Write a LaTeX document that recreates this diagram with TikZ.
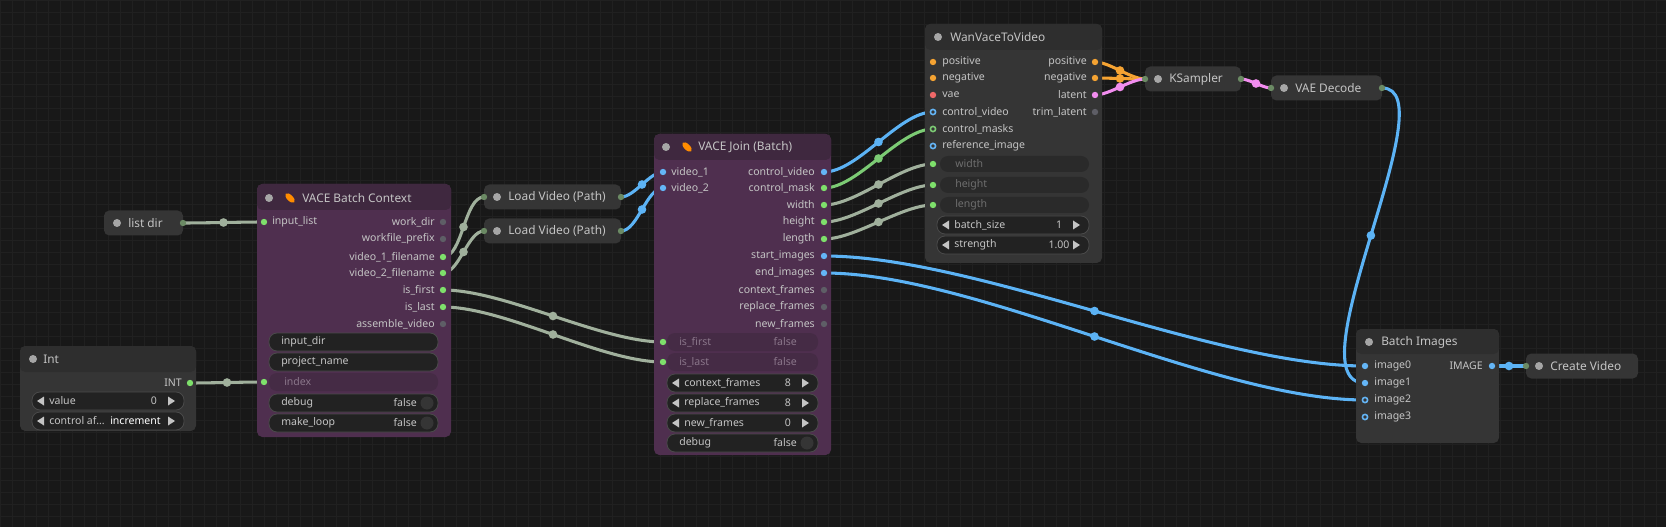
\documentclass[tikz,border=0pt]{standalone}
\usepackage{fontspec}
\setmainfont{Noto Sans}
\begin{document}
\definecolor{bg}{HTML}{181818}
\definecolor{gridc}{HTML}{202020}
\definecolor{nodebg}{HTML}{353535}
\definecolor{titlebg}{HTML}{2E2E2E}
\definecolor{purp}{HTML}{4F2F4F}
\definecolor{purptitle}{HTML}{3F283F}
\definecolor{purpdis}{HTML}{452B45}
\definecolor{txt}{HTML}{C4C4C4}
\definecolor{dimtxt}{HTML}{6E6E6E}
\definecolor{pdimtxt}{HTML}{8A768A}
\definecolor{wbg}{HTML}{222222}
\definecolor{wbd}{HTML}{4A4A4A}
\definecolor{togc}{HTML}{353535}
\definecolor{lgray}{HTML}{A0B09C}
\definecolor{lblue}{HTML}{5CB3F5}
\definecolor{lgreen}{HTML}{7CCB74}
\definecolor{lorange}{HTML}{F5A332}
\definecolor{lpink}{HTML}{F28DEF}
\definecolor{pgreen}{HTML}{7EE06B}
\definecolor{pblue}{HTML}{64B5F6}
\definecolor{pgray}{HTML}{5E5E66}
\definecolor{pred}{HTML}{F06868}
\definecolor{pcol}{HTML}{6B8A64}
\begin{tikzpicture}[x=0.75pt,y=-0.75pt,
  lbl/.style={text=txt,font=\fontsize{7.9}{9}\selectfont,inner sep=0pt},
  ttl/.style={text=txt,font=\fontsize{8.9}{10}\selectfont,inner sep=0pt,anchor=west},
  link/.style={line width=2.3pt,line cap=round},
  rr/.style={circle,fill,inner sep=0pt,minimum size=6.5pt},
  box/.style={fill=nodebg,rounded corners=4pt},
  wbox/.style={fill=wbg,draw=wbd,line width=0.6pt,rounded corners=6pt},
  lk/.style={looseness=0.7}]
\useasboundingbox (0,0) rectangle (1666,527);
\fill[bg] (0,0) rectangle (1666,527);
\foreach \i in {0,12,...,1666} \draw[gridc,line width=0.4pt] (\i,0)--(\i,527);
\foreach \i in {0,12,...,527} \draw[gridc,line width=0.4pt] (0,\i)--(1666,\i);
% helpers
\newcommand\gport[3]{\fill[#3] (#1,#2) circle (3.2);}
\newcommand\hport[3]{\draw[#3,line width=1.2pt,fill=nodebg] (#1,#2) circle (2.6);}
\newcommand\ltri[2]{\fill[txt] (#1,#2-4.5)--(#1,#2+4.5)--(#1-7,#2)--cycle;}
\newcommand\rtri[2]{\fill[txt] (#1,#2-4.5)--(#1,#2+4.5)--(#1+7,#2)--cycle;}
\newcommand\arrw[5]{\draw[wbox] (#1,#3-9) rectangle (#2,#3+9);
  \ltri{#1+12}{#3}\node[lbl,anchor=west] at (#1+17,#3) {#4};
  \node[lbl] at (#2-30,#3) {#5};\rtri{#2-16}{#3}}
\newcommand\tog[4]{\draw[wbox] (#1,#3-9) rectangle (#2,#3+9);
  \node[lbl,anchor=west] at (#1+12,#3) {#4};
  \node[lbl,anchor=east] at (#2-21,#3) {false};\fill[togc] (#2-11,#3) circle (6.5);}
\newcommand\txtw[4]{\draw[wbox] (#1,#3-9) rectangle (#2,#3+9);
  \node[lbl,anchor=west] at (#1+12,#3) {#4};}
\newcommand\collapsed[5]{% name x1 x2 y text
  \fill[box] (#2,#4-12.5) rectangle (#3,#4+12.5);
  \fill[gray!70] (#2+13,#4) circle (4);
  \node[ttl] (#1) at (#2+24,#4) {#5};}
\newcommand\icon[2]{\fill[orange!90!yellow,rotate around={45:(#1,#2)}] (#1,#2) ellipse (3 and 6);}

% ---------------- links (drawn under nodes) ----------------
\coordinate (ld-o) at (183,223); \coordinate (bc-in) at (264,222);
\coordinate (int-o) at (190,383); \coordinate (bc-idx) at (264,382);
\coordinate (bc-v1) at (443,257); \coordinate (bc-v2) at (443,273);
\coordinate (bc-f) at (443,290); \coordinate (bc-l) at (443,307);
\coordinate (lv1-i) at (484,197); \coordinate (lv2-i) at (484,231);
\coordinate (lv1-o) at (621,197); \coordinate (lv2-o) at (621,231);
\coordinate (j-v1) at (663,172); \coordinate (j-v2) at (663,188);
\coordinate (j-if) at (663,342); \coordinate (j-il) at (663,362);
\coordinate (j-cv) at (824,172); \coordinate (j-cm) at (824,188);
\coordinate (j-w) at (824,205); \coordinate (j-h) at (824,222); \coordinate (j-len) at (824,239);
\coordinate (j-si) at (824,256); \coordinate (j-ei) at (824,273);
\coordinate (w-cv) at (933,112); \coordinate (w-cm) at (933,129);
\coordinate (w-w) at (933,164); \coordinate (w-h) at (933,185); \coordinate (w-len) at (933,205);
\coordinate (w-po) at (1095,62); \coordinate (w-no) at (1095,78); \coordinate (w-lo) at (1095,95);
\coordinate (ks-i) at (1145,79); \coordinate (ks-o) at (1241,79);
\coordinate (vd-i) at (1271,88); \coordinate (vd-o) at (1382,88);
\coordinate (bi-0) at (1365,366); \coordinate (bi-1) at (1365,383); \coordinate (bi-2) at (1365,400);
\coordinate (bi-o) at (1492,366); \coordinate (cv-i) at (1526,366);

\draw[link,lgray] (ld-o) to[out=0,in=180,lk] node[rr,pos=.5]{} (bc-in);
\draw[link,lgray] (int-o) to[out=0,in=180,lk] node[rr,pos=.5]{} (bc-idx);
\draw[link,lgray] (bc-v1) to[out=0,in=180,lk] node[rr,pos=.5]{} (lv1-i);
\draw[link,lgray] (bc-v2) to[out=0,in=180,lk] node[rr,pos=.5]{} (lv2-i);
\draw[link,lblue] (lv1-o) to[out=0,in=180,lk] node[rr,pos=.5]{} (j-v1);
\draw[link,lblue] (lv2-o) to[out=0,in=180,lk] node[rr,pos=.5]{} (j-v2);
\draw[link,lgray] (bc-f) to[out=0,in=180,lk] node[rr,pos=.5]{} (j-if);
\draw[link,lgray] (bc-l) to[out=0,in=180,lk] node[rr,pos=.5]{} (j-il);
\draw[link,lblue] (j-cv) to[out=0,in=180,lk] node[rr,pos=.5]{} (w-cv);
\draw[link,lgreen] (j-cm) to[out=0,in=180,lk] node[rr,pos=.5]{} (w-cm);
\draw[link,lgray] (j-w) to[out=0,in=180,lk] node[rr,pos=.5]{} (w-w);
\draw[link,lgray] (j-h) to[out=0,in=180,lk] node[rr,pos=.5]{} (w-h);
\draw[link,lgray] (j-len) to[out=0,in=180,lk] node[rr,pos=.5]{} (w-len);
\draw[link,lblue] (j-si) to[out=0,in=180,lk] node[rr,pos=.5]{} (bi-0);
\draw[link,lblue] (j-ei) to[out=0,in=180,lk] node[rr,pos=.5]{} (bi-2);
\draw[link,lorange] (w-po) to[out=0,in=180,lk] node[rr,pos=.5]{} (ks-i);
\draw[link,lorange] (w-no) to[out=0,in=180,lk] node[rr,pos=.5]{} (ks-i);
\draw[link,lpink] (w-lo) to[out=0,in=180,lk] node[rr,pos=.5]{} (ks-i);
\draw[link,lpink] (ks-o) to[out=0,in=180,lk] node[rr,pos=.5]{} (vd-i);
\draw[link,lblue] (vd-o) .. controls (1450,88) and (1290,383) .. node[rr,pos=.5]{} (bi-1);
\draw[link,lblue] (bi-o) to[out=0,in=180,lk] node[rr,pos=.5]{} (cv-i);

% ---------------- collapsed nodes ----------------
\collapsed{listdir}{104}{183}{223}{list dir}
\collapsed{lv1}{484}{621}{197}{Load Video (Path)}
\collapsed{lv2}{484}{621}{231}{Load Video (Path)}
\collapsed{ks}{1145}{1241}{79}{KSampler}
\collapsed{vd}{1271}{1382}{88}{VAE Decode}
\collapsed{cvid}{1526}{1638}{366}{Create Video}
\foreach \p in {ld-o,lv1-i,lv2-i,lv1-o,lv2-o,ks-i,ks-o,vd-i,vd-o,cv-i} \fill[pcol] (\p) circle (3.2);

% ---------------- Int ----------------
\fill[box] (20,346) rectangle (196,431);
\fill[titlebg,rounded corners=4pt] (20,346) rectangle (196,372);
\fill[gray!70] (33,359) circle (4);
\node[ttl] (int) at (43,359) {Int};
\node[lbl,anchor=east] at (182,383) {INT};
\gport{190}{383}{pgreen}
\arrw{32}{184}{401}{value}{0}
\draw[wbox] (32,412) rectangle (184,430);
\ltri{44}{421}\node[lbl,anchor=west] at (49,421) {control af\dots};
\node[lbl,anchor=east,text=white] at (161,421) {increment};\rtri{168}{421}

% ---------------- VACE Batch Context ----------------
\fill[purp,rounded corners=4pt] (257,184) rectangle (451,437);
\fill[purptitle,rounded corners=4pt] (257,184) rectangle (451,210);
\fill[gray!70] (269,198) circle (4);
\icon{290}{198}
\node[ttl] (bctx) at (302,198) {VACE Batch Context};
\gport{264}{222}{pgreen}\node[lbl,anchor=west] at (272,222) {input\_list};
\foreach \y/\t/\c in {222/work\_dir/pgray,239/workfile\_prefix/pgray,257/video\_1\_filename/pgreen,273/video\_2\_filename/pgreen,290/is\_first/pgreen,307/is\_last/pgreen,324/assemble\_video/pgray}
  {\node[lbl,anchor=east] at (435,\y) {\t};\gport{443}{\y}{\c}}
\txtw{269}{438}{342}{input\_dir}
\txtw{269}{438}{362}{project\_name}
\fill[purpdis,rounded corners=6pt] (269,373) rectangle (438,391);
\node[lbl,anchor=west,text=pdimtxt] at (284,382) {index};
\gport{264}{382}{pgreen}
\tog{269}{438}{403}{debug}
\tog{269}{438}{423}{make\_loop}

% ---------------- VACE Join (Batch) ----------------
\fill[purp,rounded corners=4pt] (654,134) rectangle (831,455);
\fill[purptitle,rounded corners=4pt] (654,134) rectangle (831,160);
\fill[gray!70] (666,147) circle (4);
\icon{687}{147}
\node[ttl] (join) at (698,147) {VACE Join (Batch)};
\gport{663}{172}{pblue}\node[lbl,anchor=west] at (671,172) {video\_1};
\gport{663}{188}{pblue}\node[lbl,anchor=west] at (671,188) {video\_2};
\foreach \y/\t/\c in {172/control\_video/pblue,188/control\_mask/pgreen,205/width/pgreen,222/height/pgreen,239/length/pgreen,256/start\_images/pblue,273/end\_images/pblue,290/context\_frames/pgray,307/replace\_frames/pgray,324/new\_frames/pgray}
  {\node[lbl,anchor=east] at (815,\y) {\t};\gport{824}{\y}{\c}}
\foreach \y/\t in {342/is\_first,362/is\_last}{
  \fill[purpdis,rounded corners=6pt] (667,\y-9) rectangle (818,\y+9);
  \node[lbl,anchor=west,text=pdimtxt] at (679,\y) {\t};
  \node[lbl,anchor=east,text=pdimtxt] at (797,\y) {false};
  \gport{663}{\y}{pgreen}}
\arrw{667}{818}{383}{context\_frames}{8}
\arrw{667}{818}{403}{replace\_frames}{8}
\arrw{667}{818}{423}{new\_frames}{0}
\tog{667}{818}{443}{debug}

% ---------------- WanVaceToVideo ----------------
\fill[box] (925,24) rectangle (1102,263);
\fill[titlebg,rounded corners=4pt] (925,24) rectangle (1102,50);
\fill[gray!70] (938,37) circle (4);
\node[ttl] (wan) at (950,37) {WanVaceToVideo};
\gport{933}{62}{lorange}\node[lbl,anchor=west] at (942,62) {positive};
\gport{933}{78}{lorange}\node[lbl,anchor=west] at (942,78) {negative};
\gport{933}{95}{pred}\node[lbl,anchor=west] at (942,95) {vae};
\hport{933}{112}{pblue}\node[lbl,anchor=west] at (942,112) {control\_video};
\hport{933}{129}{lgreen}\node[lbl,anchor=west] at (942,129) {control\_masks};
\hport{933}{146}{pblue}\node[lbl,anchor=west] at (942,146) {reference\_image};
\foreach \y/\t in {164/width,185/height,205/length}{
  \fill[nodebg!80!black,rounded corners=6pt] (940,\y-8) rectangle (1089,\y+8);
  \node[lbl,anchor=west,text=dimtxt] at (955,\y) {\t};
  \gport{933}{\y}{pgreen}}
\gport{1095}{62}{lorange}\node[lbl,anchor=east] at (1087,62) {positive};
\gport{1095}{78}{lorange}\node[lbl,anchor=east] at (1087,78) {negative};
\gport{1095}{95}{lpink}\node[lbl,anchor=east] at (1087,95) {latent};
\gport{1095}{112}{pgray}\node[lbl,anchor=east] at (1087,112) {trim\_latent};
\arrw{937}{1089}{225}{batch\_size}{1}
\arrw{937}{1089}{245}{strength}{1.00}

% ---------------- Batch Images ----------------
\fill[box] (1356,329) rectangle (1499,443);
\fill[titlebg,rounded corners=4pt] (1356,329) rectangle (1499,354);
\fill[gray!70] (1369,342) circle (4);
\node[ttl] (bimg) at (1381,342) {Batch Images};
\gport{1365}{366}{pblue}\node[lbl,anchor=west] at (1374,366) {image0};
\gport{1365}{383}{pblue}\node[lbl,anchor=west] at (1374,383) {image1};
\hport{1365}{400}{pblue}\node[lbl,anchor=west] at (1374,400) {image2};
\hport{1365}{417}{pblue}\node[lbl,anchor=west] at (1374,417) {image3};
\node[lbl,anchor=east] at (1483,366) {IMAGE};
\gport{1492}{366}{pblue}
\end{tikzpicture}
\end{document}
